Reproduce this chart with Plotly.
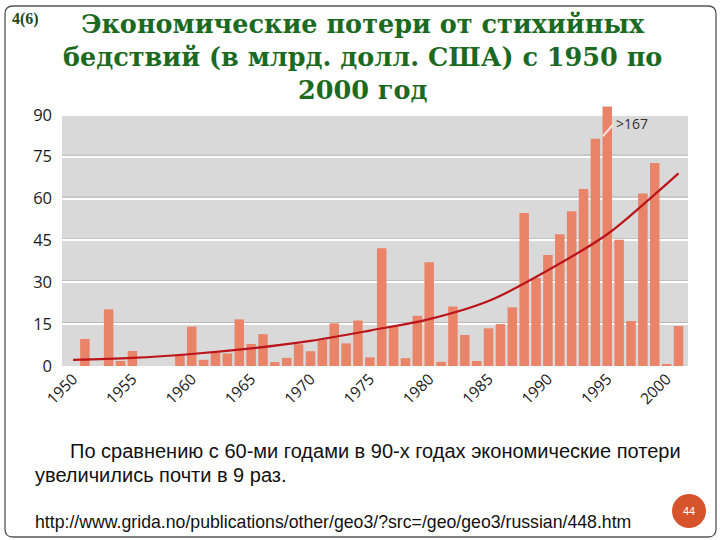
import plotly.graph_objects as go

# ---- data ----
years = list(range(1950, 2002))
losses = [0.0, 9.7, 0.0, 20.3, 1.8, 5.4, 0.0, 0.0, 0.0, 4.0,
          14.1, 2.2, 4.9, 4.5, 16.7, 7.9, 11.4, 1.4, 2.9, 7.8,
          5.3, 9.3, 15.3, 8.1, 16.3, 3.1, 42.2, 14.1, 2.8, 18.0,
          37.2, 1.5, 21.3, 11.1, 1.8, 13.5, 15.0, 21.0, 54.8, 31.5,
          39.8, 47.2, 55.4, 63.4, 81.4, 167.0, 45.2, 16.1, 61.8, 72.7,
          0.4, 14.3]
clip_top = 93.0  # bars taller than this are shown broken, with a label

trend_years = [1950, 1955, 1960, 1965, 1970, 1975, 1980, 1985, 1990, 1995, 1998.5, 2001]
trend_vals = [2.2, 2.9, 4.3, 6.3, 9.0, 12.7, 16.8, 23.3, 34.3, 47.2, 59.6, 69.0]

y_ticks = [0, 15, 30, 45, 60, 75, 90]
x_ticks = [1950, 1955, 1960, 1965, 1970, 1975, 1980, 1985, 1990, 1995, 2000]

title_text = ("Экономические потери от стихийных<br>"
              "бедствий (в млрд. долл. США) с 1950 по<br>2000 год")
body_line1 = "По сравнению с 60-ми годами в 90-х годах экономические потери"
body_line2 = "увеличились почти в 9 раз."
url_text = "http://www.grida.no/publications/other/geo3/?src=/geo/geo3/russian/448.htm"
slide_label = "4(6)"
page_no = "44"

# ---- layout geometry (pixels) ----
W, H = 720, 540
ML, MR, MT, MB = 62, 32, 105, 174
PW, PH = W - ML - MR, H - MT - MB


def px(x):
    return (x - ML) / PW


def py(y):
    return (H - MB - y) / PH


shown = [min(v, clip_top) for v in losses]
big_idx = [i for i, v in enumerate(losses) if v > clip_top]

fig = go.Figure()
fig.add_trace(go.Bar(
    x=years, y=shown, width=0.8,
    marker=dict(color="#ea8468", line=dict(width=0)),
    hoverinfo="x+y", showlegend=False,
))
fig.add_trace(go.Scatter(
    x=trend_years, y=trend_vals, mode="lines",
    line=dict(color="#bb141b", width=2.2, shape="spline", smoothing=1.0),
    showlegend=False,
))

shapes = [
    # grey plotting panel
    dict(type="rect", xref="paper", yref="y", x0=0, x1=1, y0=0, y1=90,
         fillcolor="#d9d9d9", line=dict(width=0), layer="below"),
]
# grey shadow above each white gridline
for t in y_ticks[1:-1]:
    shapes.append(dict(type="line", xref="paper", yref="y", x0=0, x1=1,
                       y0=t + 0.55, y1=t + 0.55,
                       line=dict(color="#b8b8b8", width=1), layer="below"))

annotations = []
for i in big_idx:
    yr = years[i]
    shapes.append(dict(type="line", xref="x", yref="y",
                       x0=yr - 0.38, y0=clip_top - 10.7,
                       x1=yr + 0.5, y1=clip_top - 6.5,
                       line=dict(color="#f3e2dc", width=2)))
    annotations.append(dict(xref="x", yref="y", x=yr + 0.55, y=clip_top - 6.2,
                            text=">%d" % int(losses[i]), showarrow=False,
                            xanchor="left", yanchor="middle",
                            font=dict(family="Open Sans, DejaVu Sans", size=14, color="#333333")))

# slide frame (rounded rectangle)
x0, y0, x1, y1, r = 5, 6, 716, 537, 8
path = (f"M {px(x0 + r)},{py(y0)} L {px(x1 - r)},{py(y0)} "
        f"Q {px(x1)},{py(y0)} {px(x1)},{py(y0 + r)} "
        f"L {px(x1)},{py(y1 - r)} Q {px(x1)},{py(y1)} {px(x1 - r)},{py(y1)} "
        f"L {px(x0 + r)},{py(y1)} Q {px(x0)},{py(y1)} {px(x0)},{py(y1 - r)} "
        f"L {px(x0)},{py(y0 + r)} Q {px(x0)},{py(y0)} {px(x0 + r)},{py(y0)} Z")
shapes.append(dict(type="path", xref="paper", yref="paper", path=path,
                   line=dict(color="#555555", width=1.3), layer="below"))

# page-number circle
cx, cy, cr = 689, 511, 17
shapes.append(dict(type="circle", xref="paper", yref="paper",
                   x0=px(cx - cr), x1=px(cx + cr), y0=py(cy + cr), y1=py(cy - cr),
                   fillcolor="#d6532b", line=dict(width=0)))
annotations.append(dict(xref="paper", yref="paper", x=px(cx), y=py(cy), text=page_no,
                        showarrow=False, xanchor="center", yanchor="middle",
                        font=dict(family="Liberation Sans", size=11, color="white")))

annotations.append(dict(xref="paper", yref="paper", x=px(10), y=py(19), text="<b>" + slide_label + "</b>",
                        showarrow=False, xanchor="left", yanchor="middle",
                        font=dict(family="Liberation Serif", size=16, color="#1a4a1a")))
annotations.append(dict(xref="paper", yref="paper", x=px(68), y=py(451), text=body_line1,
                        showarrow=False, xanchor="left", yanchor="middle",
                        font=dict(family="Liberation Sans", size=20, color="#111111")))
annotations.append(dict(xref="paper", yref="paper", x=px(33), y=py(475), text=body_line2,
                        showarrow=False, xanchor="left", yanchor="middle",
                        font=dict(family="Liberation Sans", size=20, color="#111111")))
annotations.append(dict(xref="paper", yref="paper", x=px(33), y=py(522), text=url_text,
                        showarrow=False, xanchor="left", yanchor="middle",
                        font=dict(family="Liberation Sans", size=17.7, color="#111111")))
annotations.append(dict(xref="paper", yref="paper", x=px(362), y=py(57), text="<b>" + title_text + "</b>",
                        showarrow=False, xanchor="center", yanchor="middle", align="center",
                        font=dict(family="DejaVu Serif", size=25.5, color="#1b6a1f")))

fig.update_layout(
    width=W, height=H,
    margin=dict(l=ML, r=MR, t=MT, b=MB),
    paper_bgcolor="white", plot_bgcolor="rgba(0,0,0,0)",
    xaxis=dict(range=[1949.07, 2001.8], tickvals=x_ticks, ticktext=[str(t) for t in x_ticks],
               tickangle=-45, showgrid=False, zeroline=False, showline=False, ticks="",
               tickfont=dict(family="Open Sans", size=15.5, color="#1a1a1a")),
    yaxis=dict(range=[0, 93.5], tickvals=y_ticks, showgrid=True, gridcolor="white",
               gridwidth=2, zeroline=False, showline=False, ticks="", ticklabelstandoff=9,
               tickfont=dict(family="Open Sans", size=16.5, color="#1a1a1a")),
    shapes=shapes, annotations=annotations,
    bargap=0.2,
)

fig.write_html("out.html")
